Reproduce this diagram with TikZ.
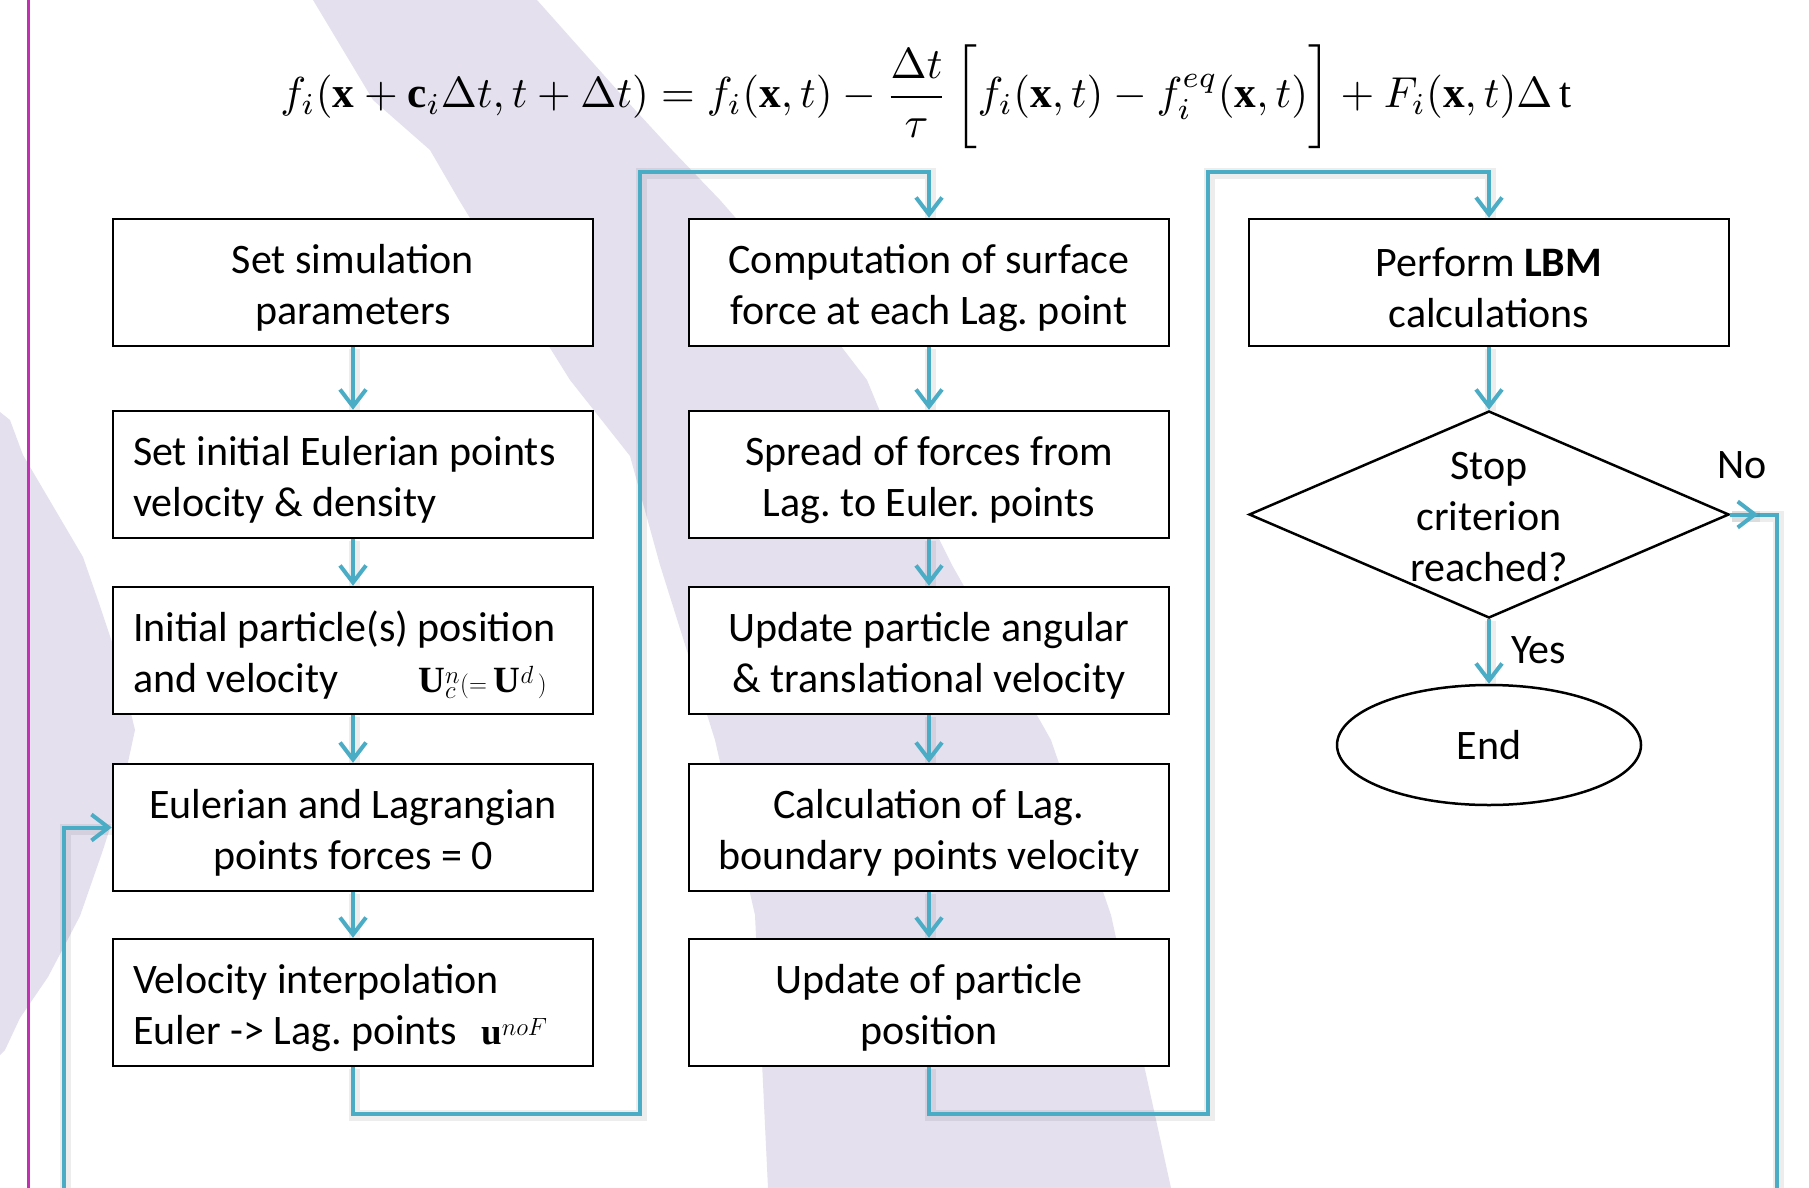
\documentclass[tikz,border=0pt]{standalone}
\usepackage{fontspec}
\setmainfont{Carlito}
\setmathrm{Liberation Serif}
\usepackage{graphicx}
\usetikzlibrary{arrows.meta,shapes.geometric}
\definecolor{tealc}{HTML}{4BACC6}
\definecolor{lav}{HTML}{E5E0EE}
\definecolor{mag}{RGB}{196,48,178}
\newcommand{\boxfont}{\fontsize{42}{51}\selectfont\frenchspacing}
\tikzset{
  box/.style={draw=black, line width=2.5pt, fill=white, minimum width=480pt, minimum height=127pt,
    inner sep=0pt, font=\boxfont, align=flush center, text width=440pt, text height=40pt},
  lbox/.style={box, align=flush left},
  dec/.style={diamond, draw=black, line width=2.5pt, fill=white, minimum width=480pt,
    minimum height=207pt, inner sep=0pt, shape aspect=2.32},
  endnode/.style={ellipse, draw=black, line width=2.5pt, fill=white, minimum width=304pt,
    minimum height=120pt, inner sep=0pt, font=\boxfont},
  shadowed/.style={preaction={draw=black, opacity=0.07, line width=11pt, arrows=-,
    transform canvas={shift={(1.5pt,-1.5pt)}}}},
  conn/.style={draw=tealc, line width=4pt, line join=miter, shadowed,
    -{Straight Barb[length=17pt,width=26pt]}},
  connline/.style={draw=tealc, line width=4pt, line join=miter, shadowed},
  lbl/.style={font=\boxfont, inner sep=0pt, anchor=base west}
}
\begin{document}
\begin{tikzpicture}[x=1pt,y=-1pt]
\useasboundingbox (0,0) rectangle (1809,1188);
\fill[white] (0,0) rectangle (1809,1188);
% background bands
\fill[lav] (313,0) -- (373,100) -- (430,150) -- (459,200) -- (520,300) -- (570,380) -- (630,456)
  -- (660,565) -- (715,740) -- (755,915) -- (768,1188) -- (1171,1188) -- (1111,915) -- (1051,740)
  -- (952,565) -- (900,460) -- (867,380) -- (790,280) -- (720,200) -- (672,150) -- (626,100)
  -- (537,0) -- cycle;
\fill[lav] (0,412) -- (10,420) -- (23,455) -- (53,506) -- (83,557) -- (100,606) -- (118,660)
  -- (135,730) -- (122,790) -- (103,850) -- (80,916) -- (48,977) -- (20,1018) -- (5,1050)
  -- (0,1055) -- cycle;
% magenta rule
\draw[mag, line width=3pt] (28,0) -- (28,1188);
% equation
\node[inner sep=0pt] (eq) at (926,97) {\resizebox{1291pt}{!}{$\displaystyle
  f_i(\mathbf{x}+\mathbf{c}_i\Delta t,t+\Delta t)=f_i(\mathbf{x},t)-\frac{\Delta t}{\tau}
  \left[\vphantom{\frac{\Delta t}{\tau}} f_i(\mathbf{x},t)-f_i^{eq}(\mathbf{x},t)\right]
  +F_i(\mathbf{x},t)\Delta\,\mathrm{t}$}};
% left column
\node[box]  (b1) at (353,282.5) {Set simulation\\parameters};
\node[lbox] (b2) at (353,474.5) {Set initial Eulerian points\\velocity \& density};
\node[lbox] (b3) at (353,650.5) {Initial particle(s) position\\and velocity\hspace{80pt}{\fontsize{37}{40}\selectfont$\mathbf{U}_c^n(=\mathbf{U}^d\,)$}};
\node[box]  (b4) at (353,827.5) {Eulerian and Lagrangian\\points forces = 0};
\node[lbox] (b5) at (353,1002.5) {Velocity interpolation\\Euler -> Lag. points\hspace{24pt}{\fontsize{37}{40}\selectfont$\mathbf{u}^{noF}$}};
% middle column
\node[box] (m1) at (929,282.5) {Computation of surface\\force at each Lag. point};
\node[box] (m2) at (929,474.5) {Spread of forces from\\Lag. to Euler. points};
\node[box] (m3) at (929,650.5) {Update particle angular\\\& translational velocity};
\node[box] (m4) at (929,827.5) {Calculation of Lag.\\boundary points velocity};
\node[box] (m5) at (929,1002.5) {Update of particle\\position};
% right column
\node[box] (r1) at (1489,282.5) {Perform \textbf{LBM}\\calculations};
\node[dec, label={[font=\boxfont, align=center, inner sep=0pt, yshift=-3pt]center:Stop\\criterion\\reached?}] (d) at (1489,514.5) {};
\node[endnode] (e) at (1489,745) {End};
\node[lbl] (yes) at (1511,663) {Yes};
\node[lbl] (no) at (1717,478) {No};
% coordinates
\coordinate (j1) at (640,1114);
\coordinate (j2) at (640,172);
\coordinate (k1) at (1208,1114);
\coordinate (k2) at (1208,172);
\coordinate (lb) at (64,1188);
\coordinate (nt) at (1758,514.5);
\coordinate (nc) at (1777,514.5);
\coordinate (nb) at (1777,1188);
% connectors
\draw[conn] (b1.south) -- (b2.north);
\draw[conn] (b2.south) -- (b3.north);
\draw[conn] (b3.south) -- (b4.north);
\draw[conn] (b4.south) -- (b5.north);
\draw[conn] (m1.south) -- (m2.north);
\draw[conn] (m2.south) -- (m3.north);
\draw[conn] (m3.south) -- (m4.north);
\draw[conn] (m4.south) -- (m5.north);
\draw[conn] (b5.south) |- (j1) -- (j2) -| (m1.north);
\draw[conn] (m5.south) |- (k1) -- (k2) -| (r1.north);
\draw[conn] (r1.south) -- (d.north);
\draw[conn] (d.south) -- (e.north);
\draw[conn] (lb) |- (b4.west);
\draw[connline] (d.east) -- (nc) -- (nb);
\draw[conn] (d.east) -- (nt);
\end{tikzpicture}
\end{document}
